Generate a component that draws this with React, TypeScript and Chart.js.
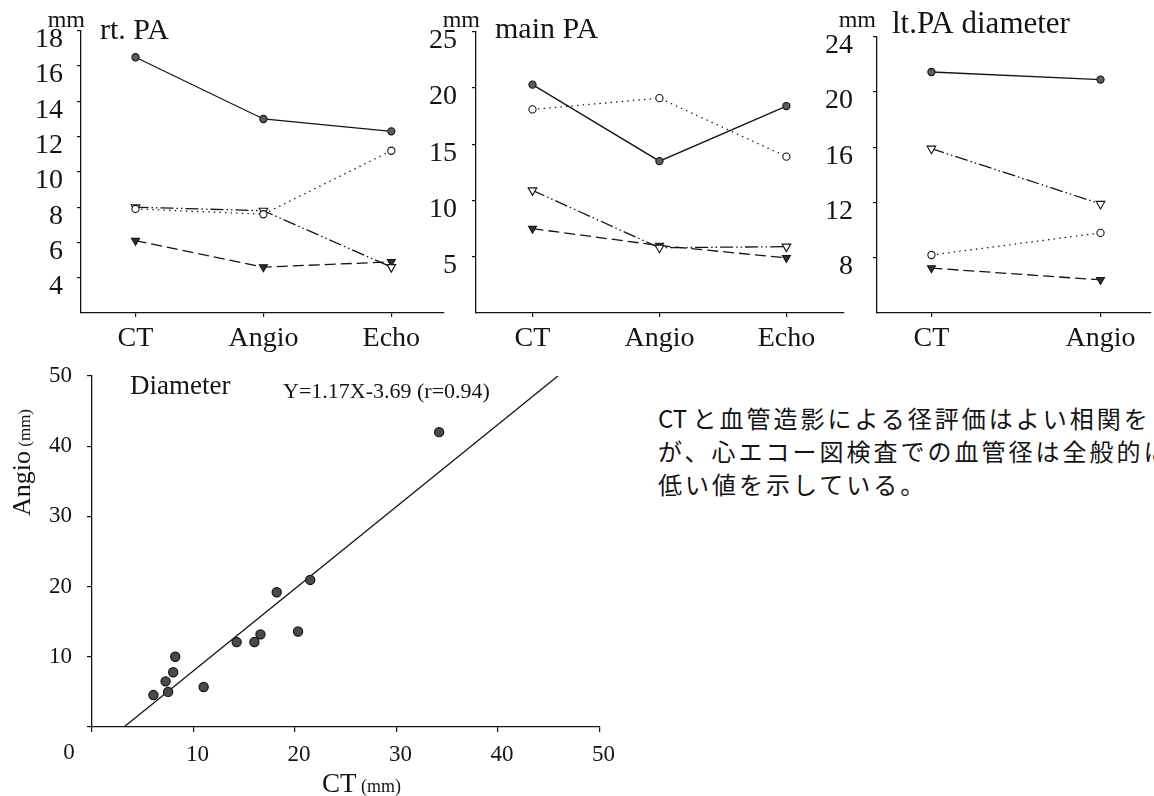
import React, { useEffect, useRef } from 'react';
import { Chart, registerables } from 'chart.js';

Chart.register(...registerables);

const SERIF = "'Liberation Serif', 'Times New Roman', Times, serif";
const INK = '#141414';

// ---------- data ----------
const threeCats = ['CT', 'Angio', 'Echo'];
const twoCats = ['CT', 'Angio'];

// rt. PA (mm)
const rtSolid = [16.5, 13.0, 12.3];
const rtDotted = [7.9, 7.6, 11.2];
const rtDashDot = [8.0, 7.8, 4.6];
const rtDashed = [6.1, 4.6, 4.9];
const rtTicks = [4, 6, 8, 10, 12, 14, 16, 18];

// main PA (mm)
const mainSolid = [20.3, 13.5, 18.4];
const mainDotted = [18.1, 19.1, 13.9];
const mainDashDot = [10.9, 5.8, 5.9];
const mainDashed = [7.5, 6.0, 4.9];
const mainTicks = [5, 10, 15, 20, 25];

// lt. PA diameter (mm)
const ltSolid = [21.45, 20.9];
const ltDotted = [8.2, 9.8];
const ltDashDot = [15.9, 11.9];
const ltDashed = [7.25, 6.4];
const ltTicks = [8, 12, 16, 20, 24];

// Diameter scatter: CT (mm) vs Angio (mm)
const ctDiam = [34.2, 21.5, 18.2, 20.3, 16.6, 16.0, 14.25, 11.0, 8.2, 8.0, 7.25, 7.5, 6.05];
const angioDiam = [42.0, 20.95, 19.2, 13.6, 13.2, 12.1, 12.1, 5.7, 10.0, 7.8, 6.5, 5.0, 4.55];
const fitCT = [3.15, 45.9];
const fitAngio = [0, 50];
const scatterTicks = [0, 10, 20, 30, 40, 50];
const scatterXLabels = ['', '10', '20', '30', '40', '50'];
const scatterYLabels = ['', '10', '20', '30', '40', '50'];

const noteLead = 'CT ';
const noteLines = [
  'と血管造影による径評価はよい相関を',
  'が、心エコー図検査での血管径は全般的に',
  '低い値を示している。',
];

// ---------- styles ----------
const seriesLook = [
  { dash: [], shape: 'circle', fill: '#5c5c5c', rot: 0, r: 3.6 },
  { dash: [1.4, 4.2], shape: 'circle', fill: '#ffffff', rot: 0, r: 3.6 },
  { dash: [13, 3, 1.5, 3, 1.5, 3], shape: 'triangle', fill: '#ffffff', rot: 180, r: 5 },
  { dash: [11, 5], shape: 'triangle', fill: '#303030', rot: 180, r: 4.6 },
];

const textPlugin = {
  id: 'texts',
  afterDraw(chart: any, _args: any, opts: any) {
    const ctx = chart.ctx;
    (opts.items || []).forEach((it: any) => {
      ctx.save();
      ctx.fillStyle = INK;
      ctx.textBaseline = it.baseline || 'alphabetic';
      ctx.translate(it.x, it.y);
      if (it.rotate) ctx.rotate(it.rotate);
      let total = 0;
      it.parts.forEach((p: any) => {
        ctx.font = `${p.size}px ${SERIF}`;
        total += ctx.measureText(p.text).width;
      });
      let cx = it.align === 'right' ? -total : it.align === 'center' ? -total / 2 : 0;
      ctx.textAlign = 'left';
      it.parts.forEach((p: any) => {
        ctx.font = `${p.size}px ${SERIF}`;
        ctx.fillText(p.text, cx, 0);
        cx += ctx.measureText(p.text).width;
      });
      ctx.restore();
    });
  },
};

const axisGrid = (len: number) => ({
  drawOnChartArea: false,
  drawTicks: true,
  tickLength: len,
  color: INK,
  lineWidth: 1.2,
});
const axisBorder = { display: true, color: INK, width: 1.3 };

type PanelProps = {
  left: number;
  width: number;
  cats: string[];
  series: number[][];
  yMin: number;
  yMax: number;
  yTicks: number[];
  xMin: number;
  xMax: number;
  axisW: number;
  tickPad: number;
  texts: any[];
};

function Panel(p: PanelProps) {
  const ref = useRef<HTMLCanvasElement | null>(null);
  useEffect(() => {
    const chart = new Chart(ref.current as HTMLCanvasElement, {
      type: 'line',
      data: {
        datasets: p.series.map((vals, k) => ({
          data: vals.map((v, i) => ({ x: i, y: v })),
          borderColor: INK,
          borderWidth: 1.3,
          borderDash: seriesLook[k].dash,
          pointStyle: seriesLook[k].shape as any,
          pointRotation: seriesLook[k].rot,
          pointRadius: seriesLook[k].r,
          pointBackgroundColor: seriesLook[k].fill,
          pointBorderColor: INK,
          pointBorderWidth: 1.1,
          tension: 0,
          fill: false,
        })),
      },
      options: {
        responsive: false,
        animation: false,
        devicePixelRatio: 1,
        layout: { padding: { top: 29, left: 0, right: 0, bottom: 0 } },
        plugins: {
          legend: { display: false },
          tooltip: { enabled: false },
          texts: { items: p.texts },
        } as any,
        scales: {
          x: {
            type: 'linear',
            min: p.xMin,
            max: p.xMax,
            afterBuildTicks: (s: any) => {
              s.ticks = p.cats.map((_, i) => ({ value: i }));
            },
            afterFit: (s: any) => {
              s.height = 47;
            },
            ticks: {
              callback: (v: any) => p.cats[Math.round(Number(v))] ?? '',
              color: INK,
              font: { family: SERIF, size: 28 },
              padding: 5,
              maxRotation: 0,
              autoSkip: false,
            },
            grid: axisGrid(4),
            border: axisBorder,
          },
          y: {
            type: 'linear',
            min: p.yMin,
            max: p.yMax,
            afterBuildTicks: (s: any) => {
              s.ticks = p.yTicks.map((v) => ({ value: v }));
            },
            afterFit: (s: any) => {
              s.width = p.axisW;
            },
            ticks: {
              color: INK,
              font: { family: SERIF, size: 28 },
              padding: p.tickPad,
              labelOffset: 9,
            },
            grid: axisGrid(4),
            border: axisBorder,
          },
        },
      },
      plugins: [textPlugin],
    } as any);
    return () => chart.destroy();
  }, []);
  return (
    <canvas
      ref={ref}
      width={p.width}
      height={360}
      style={{ position: 'absolute', left: p.left, top: 0, width: p.width, height: 360 }}
    />
  );
}

function ScatterPanel() {
  const ref = useRef<HTMLCanvasElement | null>(null);
  useEffect(() => {
    const chart = new Chart(ref.current as HTMLCanvasElement, {
      type: 'scatter',
      data: {
        datasets: [
          {
            data: ctDiam.map((x, i) => ({ x, y: angioDiam[i] })),
            pointRadius: 4.6,
            pointBackgroundColor: '#4a4a4a',
            pointBorderColor: INK,
            pointBorderWidth: 1.2,
            showLine: false,
          },
          {
            data: fitCT.map((x, i) => ({ x, y: fitAngio[i] })),
            showLine: true,
            borderColor: INK,
            borderWidth: 1.3,
            pointRadius: 0,
            fill: false,
          },
        ],
      },
      options: {
        responsive: false,
        animation: false,
        devicePixelRatio: 1,
        layout: { padding: { top: 36, left: 0, right: 17, bottom: 0 } },
        plugins: {
          legend: { display: false },
          tooltip: { enabled: false },
          texts: {
            items: [
              { x: 130, y: 54, parts: [{ text: 'Diameter', size: 27 }] },
              { x: 283, y: 58, parts: [{ text: 'Y=1.17X-3.69 (r=0.94)', size: 22 }] },
              { x: 69, y: 413, align: 'center', baseline: 'middle', parts: [{ text: '0', size: 23 }] },
              { x: 322, y: 452, parts: [{ text: 'CT', size: 27 }, { text: ' (mm)', size: 18 }] },
              {
                x: 30,
                y: 176,
                rotate: -Math.PI / 2,
                parts: [{ text: 'Angio', size: 26 }, { text: ' (mm)', size: 17 }],
              },
            ],
          },
        } as any,
        scales: {
          x: {
            type: 'linear',
            min: 0,
            max: 50,
            afterBuildTicks: (s: any) => {
              s.ticks = scatterTicks.map((v) => ({ value: v }));
            },
            afterFit: (s: any) => {
              s.height = 69;
            },
            ticks: {
              callback: (_v: any, i: number) => scatterXLabels[i],
              color: INK,
              font: { family: SERIF, size: 23 },
              padding: 9,
              labelOffset: 4,
              maxRotation: 0,
              autoSkip: false,
            },
            grid: axisGrid(5),
            border: axisBorder,
          },
          y: {
            type: 'linear',
            min: 0,
            max: 50,
            afterBuildTicks: (s: any) => {
              s.ticks = scatterTicks.map((v) => ({ value: v }));
            },
            afterFit: (s: any) => {
              s.width = 92;
            },
            ticks: {
              callback: (_v: any, i: number) => scatterYLabels[i],
              color: INK,
              font: { family: SERIF, size: 23 },
              padding: 15,
            },
            grid: axisGrid(5),
            border: axisBorder,
          },
        },
      },
      plugins: [textPlugin],
    } as any);
    return () => chart.destroy();
  }, []);
  return (
    <canvas
      ref={ref}
      width={620}
      height={456}
      style={{ position: 'absolute', left: 0, top: 340, width: 620, height: 456 }}
    />
  );
}

export default function App() {
  return (
    <div
      style={{
        position: 'absolute',
        left: 0,
        top: 0,
        width: 1154,
        height: 796,
        overflow: 'hidden',
        background: '#ffffff',
      }}
    >
      <Panel
        left={0}
        width={450}
        cats={threeCats}
        series={[rtSolid, rtDotted, rtDashDot, rtDashed]}
        yMin={2}
        yMax={18}
        yTicks={rtTicks}
        xMin={-0.426}
        xMax={2.411}
        axisW={81}
        tickPad={14}
        texts={[
          { x: 85, y: 27, align: 'right', parts: [{ text: 'mm', size: 24 }] },
          { x: 100, y: 39, parts: [{ text: 'rt. PA', size: 30 }] },
        ]}
      />
      <Panel
        left={400}
        width={450}
        cats={threeCats}
        series={[mainSolid, mainDotted, mainDashDot, mainDashed]}
        yMin={0}
        yMax={25}
        yTicks={mainTicks}
        xMin={-0.445}
        xMax={2.453}
        axisW={76}
        tickPad={15}
        texts={[
          { x: 80, y: 27, align: 'right', parts: [{ text: 'mm', size: 24 }] },
          { x: 95, y: 38, parts: [{ text: 'main PA', size: 30 }] },
        ]}
      />
      <Panel
        left={800}
        width={357}
        cats={twoCats}
        series={[ltSolid, ltDotted, ltDashDot, ltDashed]}
        yMin={4}
        yMax={24}
        yTicks={ltTicks}
        xMin={-0.322}
        xMax={1.298}
        axisW={77}
        tickPad={20}
        texts={[
          { x: 76, y: 27, align: 'right', parts: [{ text: 'mm', size: 24 }] },
          { x: 92, y: 33, parts: [{ text: 'lt.PA diameter', size: 31 }] },
        ]}
      />
      <ScatterPanel />
      <div
        style={{
          position: 'absolute',
          left: 658,
          top: 401,
          fontFamily: "'Noto Sans CJK JP', sans-serif",
          fontSize: 24,
          lineHeight: '33px',
          letterSpacing: 3,
          whiteSpace: 'nowrap',
          color: INK,
        }}
      >
        {noteLines.map((l, i) => (
          <div key={l}>
            {i === 0 ? <span style={{ letterSpacing: 0 }}>{noteLead}</span> : null}
            {l}
          </div>
        ))}
      </div>
    </div>
  );
}
